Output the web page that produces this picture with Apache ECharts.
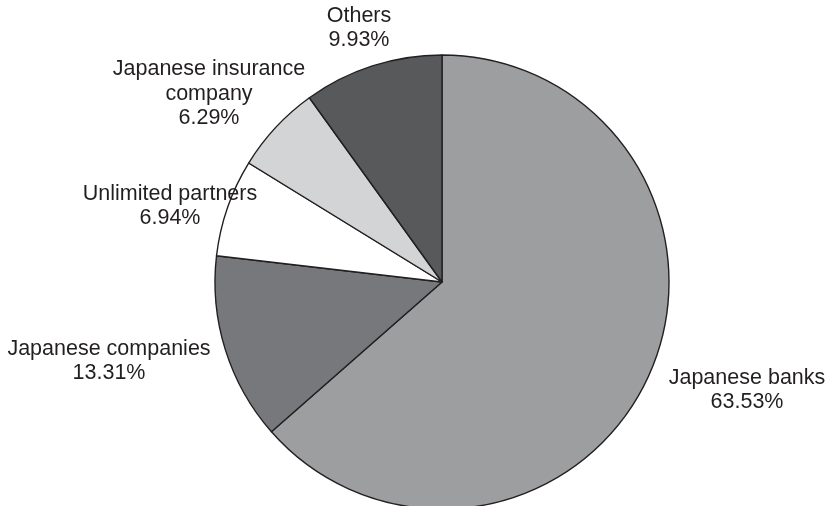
<!DOCTYPE html>
<html>
<head>
<meta charset="utf-8">
<script src="https://cdn.jsdelivr.net/npm/echarts@6/dist/echarts.min.js"></script>
<style>
  html, body { margin: 0; padding: 0; background: #ffffff; }
  #chart { width: 830px; height: 506px; }
</style>
</head>
<body>
<div id="chart"></div>
<script>
// Shareholder composition, clockwise from 12 o'clock
const categories = ['Japanese banks', 'Japanese companies', 'Unlimited partners', 'Japanese insurance\ncompany', 'Others'];
const shares = [63.53, 13.31, 6.94, 6.29, 9.93];
const shareLabels = ['63.53%', '13.31%', '6.94%', '6.29%', '9.93%'];

// Fill shades for each slice
const sliceColors = ['#9d9ea0', '#77787b', '#ffffff', '#d3d4d6', '#58595b'];
// Label block centres (px)
const labelSpots = [[747, 390], [109, 361], [170, 206], [209, 94], [359, 28]];

const chart = echarts.init(document.getElementById('chart'), null, { renderer: 'canvas' });

chart.setOption({
  backgroundColor: '#ffffff',
  animation: false,
  series: [{
    type: 'pie',
    center: [442, 282],
    radius: [0, 227],
    startAngle: 90,
    clockwise: true,
    avoidLabelOverlap: false,
    itemStyle: { borderColor: '#231f20', borderWidth: 1.4 },
    emphasis: { disabled: true },
    labelLine: { show: false },
    label: {
      show: true,
      position: 'outside',
      formatter: p => p.name + '\n' + shareLabels[p.dataIndex],
      fontFamily: '"Liberation Sans", Arial, Helvetica, sans-serif',
      fontSize: 21.5,
      lineHeight: 24.5,
      color: '#231f20',
      align: 'center'
    },
    labelLayout: params => ({
      x: labelSpots[params.dataIndex][0],
      y: labelSpots[params.dataIndex][1],
      align: 'center',
      verticalAlign: 'middle'
    }),
    data: categories.map((name, i) => ({
      name: name,
      value: shares[i],
      itemStyle: { color: sliceColors[i] }
    }))
  }]
});
</script>
</body>
</html>
